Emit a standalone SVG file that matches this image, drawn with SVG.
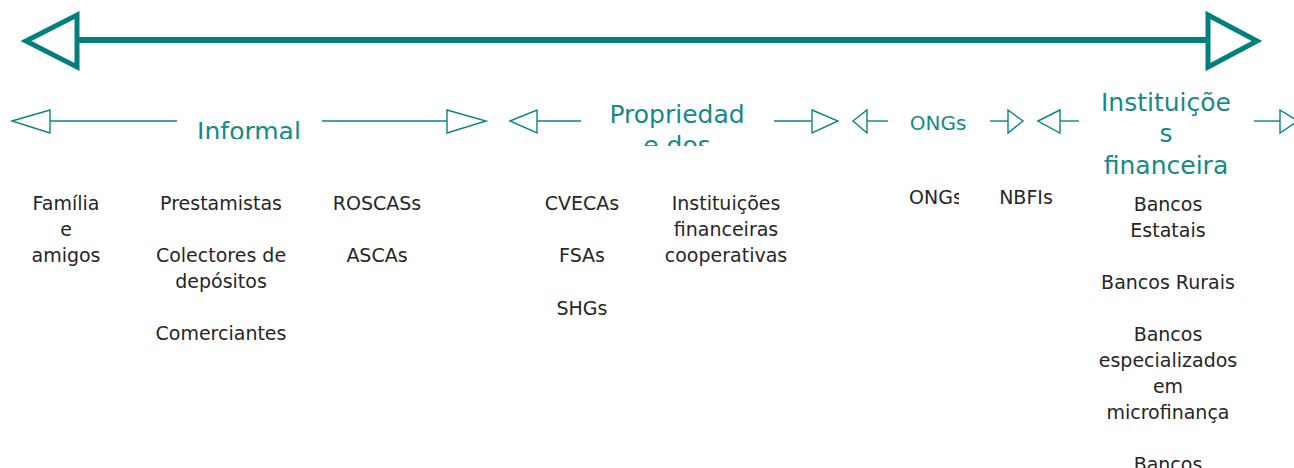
<svg xmlns="http://www.w3.org/2000/svg" width="1294" height="468" viewBox="0 0 1294 468">
  <style>
    .axis { stroke: #00807c; stroke-width: 6; fill: none; }
    .head { stroke: #00807c; stroke-width: 5; fill: #ffffff; stroke-linejoin: miter; }
    .ln { stroke: #0b8581; stroke-width: 1.4; fill: none; }
    .tri { stroke: #0b8581; stroke-width: 1.4; fill: #ffffff; }
    .cat { font-family: "DejaVu Sans", "Liberation Sans", sans-serif; font-size: 25px; fill: #168a86; text-anchor: middle; }
    .cat-sm { font-size: 20px; }
    .item { font-family: "DejaVu Sans", "Liberation Sans", sans-serif; font-size: 19px; fill: #262626; text-anchor: middle; }
  </style>
  <defs>
    <clipPath id="clip-informal"><rect x="180" y="90" width="140" height="49"/></clipPath>
    <clipPath id="clip-propriedade"><rect x="590" y="90" width="180" height="56"/></clipPath>
    <clipPath id="clip-ongs"><rect x="900" y="180" width="59" height="40"/></clipPath>
  </defs>

  <rect width="1294" height="468" fill="#ffffff"/>

  <!-- main spectrum axis -->
  <g id="spectrum">
    <line class="axis" x1="77" y1="40" x2="1208" y2="40"/>
    <polygon class="head" points="26,41 77,15 77,67"/>
    <polygon class="head" points="1208,15 1257,41 1208,67"/>
  </g>

  <!-- category range arrows -->
  <g id="connectors">
    <polygon class="tri" points="12,121 50,110 50,133"/>
    <line class="ln" x1="50" y1="121" x2="177" y2="121"/>
    <line class="ln" x1="322" y1="121" x2="447" y2="121"/>
    <polygon class="tri" points="447,110 486,121 447,133"/>

    <polygon class="tri" points="510,121 537,110 537,133"/>
    <line class="ln" x1="537" y1="121" x2="581" y2="121"/>
    <line class="ln" x1="774" y1="121" x2="812" y2="121"/>
    <polygon class="tri" points="812,110 838,121 812,133"/>

    <polygon class="tri" points="853,121 867,110 867,133"/>
    <line class="ln" x1="867" y1="121" x2="888" y2="121"/>
    <line class="ln" x1="990" y1="121" x2="1008" y2="121"/>
    <polygon class="tri" points="1008,110 1023,121 1008,133"/>

    <polygon class="tri" points="1038,121 1060,110 1060,133"/>
    <line class="ln" x1="1060" y1="121" x2="1079" y2="121"/>
    <line class="ln" x1="1254" y1="121" x2="1280" y2="121"/>
    <polygon class="tri" points="1280,110 1298,121 1280,133"/>
  </g>

  <!-- category headings -->
  <g id="cat-informal">
    <text class="cat" x="249" y="140" clip-path="url(#clip-informal)">Informal</text>
  </g>
  <g id="cat-propriedade">
    <g clip-path="url(#clip-propriedade)">
      <text class="cat" x="677" y="123">Propriedad</text>
      <text class="cat" x="677" y="154">e dos</text>
    </g>
  </g>
  <g id="cat-ongs">
    <text class="cat cat-sm" x="938" y="130">ONGs</text>
  </g>
  <g id="cat-instituicoes">
    <text class="cat" x="1166" y="111">Instituiçõe</text>
    <text class="cat" x="1166" y="142">s</text>
    <text class="cat" x="1166" y="174">financeira</text>
  </g>

  <!-- providers -->
  <g id="familia">
    <text class="item" x="66" y="210">Família</text>
    <text class="item" x="66" y="236">e</text>
    <text class="item" x="66" y="262">amigos</text>
  </g>
  <g id="prestamistas">
    <text class="item" x="221" y="210">Prestamistas</text>
  </g>
  <g id="colectores">
    <text class="item" x="221" y="262">Colectores de</text>
    <text class="item" x="221" y="288">depósitos</text>
  </g>
  <g id="comerciantes">
    <text class="item" x="221" y="340">Comerciantes</text>
  </g>
  <g id="roscas">
    <text class="item" x="377" y="210">ROSCASs</text>
  </g>
  <g id="ascas">
    <text class="item" x="377" y="262">ASCAs</text>
  </g>
  <g id="cvecas">
    <text class="item" x="582" y="210">CVECAs</text>
  </g>
  <g id="fsas">
    <text class="item" x="582" y="262">FSAs</text>
  </g>
  <g id="shgs">
    <text class="item" x="582" y="315">SHGs</text>
  </g>
  <g id="cooperativas">
    <text class="item" x="726" y="210">Instituições</text>
    <text class="item" x="726" y="236">financeiras</text>
    <text class="item" x="726" y="262">cooperativas</text>
  </g>
  <g id="ongs">
    <text class="item" x="936" y="204" clip-path="url(#clip-ongs)">ONGs</text>
  </g>
  <g id="nbfis">
    <text class="item" x="1026" y="204">NBFIs</text>
  </g>
  <g id="bancos-estatais">
    <text class="item" x="1168" y="211">Bancos</text>
    <text class="item" x="1168" y="237">Estatais</text>
  </g>
  <g id="bancos-rurais">
    <text class="item" x="1168" y="289">Bancos Rurais</text>
  </g>
  <g id="bancos-microfinanca">
    <text class="item" x="1168" y="341">Bancos</text>
    <text class="item" x="1168" y="367">especializados</text>
    <text class="item" x="1168" y="393">em</text>
    <text class="item" x="1168" y="419">microfinança</text>
  </g>
  <g id="bancos-outros">
    <text class="item" x="1168" y="471">Bancos</text>
  </g>
</svg>
